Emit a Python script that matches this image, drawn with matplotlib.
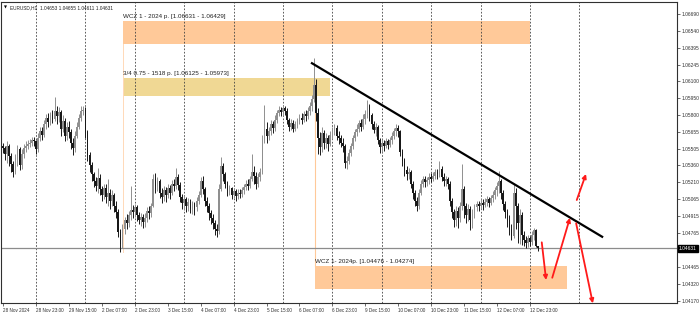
import matplotlib
matplotlib.use("Agg")
import matplotlib.pyplot as plt
import numpy as np

# EURUSD H1 bars, 28 Nov 2024 07:00 .. 13 Dec 2024 03:00 (open = previous close)
first_open = 1.0553
closes = [
    1.0551, 1.0546, 1.0553, 1.0544, 1.0537, 1.0530, 1.0542, 1.0550, 1.0536, 1.0546,
    1.0551, 1.0553, 1.0555, 1.0556, 1.0558, 1.0557, 1.0550, 1.0560, 1.0566, 1.0563,
    1.0572, 1.0578, 1.0574, 1.0580, 1.0577, 1.0584, 1.0579, 1.0583, 1.0568, 1.0575,
    1.0562, 1.0570, 1.0565, 1.0556, 1.0551, 1.0562, 1.0570, 1.0578, 1.0584, 1.0585,
    1.0565, 1.0545, 1.0536, 1.0528, 1.0522, 1.0518, 1.0525, 1.0515, 1.0510, 1.0516,
    1.0508, 1.0512, 1.0505, 1.0510, 1.0500, 1.0495, 1.0477, 1.0467, 1.0480, 1.0488,
    1.0485, 1.0492, 1.0497, 1.0495, 1.0499, 1.0492, 1.0488, 1.0491, 1.0486, 1.0490,
    1.0496, 1.0494, 1.0500, 1.0524, 1.0518, 1.0522, 1.0512, 1.0508, 1.0514, 1.0510,
    1.0516, 1.0512, 1.0520, 1.0518, 1.0526, 1.0519, 1.0508, 1.0503, 1.0506, 1.0500,
    1.0504, 1.0498, 1.0502, 1.0499, 1.0505, 1.0510, 1.0522, 1.0515, 1.0505, 1.0500,
    1.0494, 1.0490, 1.0485, 1.0480, 1.0478, 1.0515, 1.0535, 1.0528, 1.0520, 1.0514,
    1.0516, 1.0510, 1.0513, 1.0509, 1.0512, 1.0511, 1.0514, 1.0517, 1.0520, 1.0518,
    1.0524, 1.0530, 1.0527, 1.0520, 1.0526, 1.0530, 1.0558, 1.0568, 1.0562, 1.0566,
    1.0572, 1.0569, 1.0576, 1.0582, 1.0585, 1.0583, 1.0586, 1.0584, 1.0576, 1.0570,
    1.0573, 1.0568, 1.0572, 1.0575, 1.0578, 1.0576, 1.0581, 1.0579, 1.0584, 1.0588,
    1.0594, 1.0607, 1.0582, 1.0560, 1.0552, 1.0564, 1.0556, 1.0560, 1.0555, 1.0563,
    1.0567, 1.0569, 1.0562, 1.0560, 1.0556, 1.0553, 1.0538, 1.0540, 1.0547, 1.0553,
    1.0560, 1.0565, 1.0568, 1.0573, 1.0570, 1.0577, 1.0581, 1.0588, 1.0580, 1.0572,
    1.0567, 1.0570, 1.0558, 1.0552, 1.0556, 1.0553, 1.0557, 1.0554, 1.0558, 1.0562,
    1.0566, 1.0569, 1.0566, 1.0548, 1.0540, 1.0532, 1.0528, 1.0530, 1.0520, 1.0512,
    1.0505, 1.0500, 1.0512, 1.0520, 1.0524, 1.0521, 1.0523, 1.0526, 1.0524, 1.0527,
    1.0530, 1.0528, 1.0533, 1.0526, 1.0522, 1.0524, 1.0520, 1.0505, 1.0495, 1.0488,
    1.0496, 1.0490, 1.0500, 1.0515, 1.0500, 1.0492, 1.0498, 1.0488, 1.0494, 1.0499,
    1.0502, 1.0500, 1.0503, 1.0501, 1.0504, 1.0506, 1.0503, 1.0507, 1.0510, 1.0514,
    1.0518, 1.0522, 1.0512, 1.0502, 1.0495, 1.0488, 1.0480, 1.0474, 1.0512, 1.0500,
    1.0485, 1.0492, 1.0475, 1.0470, 1.0468, 1.0472, 1.0469, 1.0475, 1.0479, 1.04653,
    1.04631,
]
highs = [
    1.0556, 1.0553, 1.0557, 1.0555, 1.0547, 1.0540, 1.0546, 1.0554, 1.0552, 1.0550,
    1.0555, 1.0557, 1.0558, 1.0559, 1.0561, 1.0561, 1.0558, 1.0564, 1.0570, 1.0570,
    1.0576, 1.0581, 1.0582, 1.0583, 1.0585, 1.0596, 1.0588, 1.0587, 1.0585, 1.0580,
    1.0578, 1.0574, 1.0575, 1.0568, 1.0560, 1.0566, 1.0574, 1.0581, 1.0588, 1.0588,
    1.0587, 1.0567, 1.0548, 1.0539, 1.0530, 1.0526, 1.0534, 1.0528, 1.0518, 1.0520,
    1.0520, 1.0524, 1.0515, 1.0514, 1.0512, 1.0505, 1.0498, 1.0480, 1.0484, 1.0491,
    1.0493, 1.0496, 1.0518, 1.0501, 1.0502, 1.0501, 1.0495, 1.0494, 1.0493, 1.0494,
    1.0499, 1.0500, 1.0503, 1.0528, 1.0529, 1.0526, 1.0524, 1.0516, 1.0518, 1.0517,
    1.0520, 1.0519, 1.0523, 1.0524, 1.0534, 1.0528, 1.0521, 1.0511, 1.0509, 1.0508,
    1.0507, 1.0506, 1.0505, 1.0504, 1.0508, 1.0513, 1.0526, 1.0527, 1.0517, 1.0508,
    1.0503, 1.0497, 1.0493, 1.0488, 1.0484, 1.0520, 1.0543, 1.0538, 1.0530, 1.0522,
    1.0519, 1.0517, 1.0516, 1.0515, 1.0515, 1.0515, 1.0517, 1.0520, 1.0523, 1.0524,
    1.0527, 1.0546, 1.0535, 1.0530, 1.0529, 1.0534, 1.0563, 1.0589, 1.0574, 1.0570,
    1.0576, 1.0575, 1.0580, 1.0585, 1.0588, 1.0587, 1.0589, 1.0588, 1.0586, 1.0578,
    1.0577, 1.0576, 1.0575, 1.0578, 1.0581, 1.0582, 1.0584, 1.0585, 1.0587, 1.0592,
    1.0598, 1.0630, 1.0612, 1.0586, 1.0565, 1.0570, 1.0567, 1.0564, 1.0563, 1.0566,
    1.0570, 1.0572, 1.0571, 1.0566, 1.0563, 1.0560, 1.0555, 1.0544, 1.0550, 1.0556,
    1.0563, 1.0568, 1.0572, 1.0576, 1.0577, 1.0581, 1.0585, 1.0593, 1.0590, 1.0582,
    1.0575, 1.0573, 1.0571, 1.0560, 1.0559, 1.0558, 1.0560, 1.0559, 1.0561, 1.0565,
    1.0569, 1.0572, 1.0571, 1.0567, 1.0550, 1.0542, 1.0535, 1.0534, 1.0532, 1.0522,
    1.0514, 1.0508, 1.0515, 1.0523, 1.0527, 1.0527, 1.0526, 1.0529, 1.0529, 1.0530,
    1.0533, 1.0533, 1.0540, 1.0535, 1.0529, 1.0527, 1.0526, 1.0522, 1.0507, 1.0498,
    1.0500, 1.0499, 1.0504, 1.0537, 1.0518, 1.0503, 1.0502, 1.0500, 1.0498, 1.0502,
    1.0505, 1.0505, 1.0506, 1.0506, 1.0507, 1.0509, 1.0508, 1.0510, 1.0513, 1.0517,
    1.0521, 1.0531, 1.0524, 1.0514, 1.0505, 1.0498, 1.0492, 1.0484, 1.0520, 1.0516,
    1.0503, 1.0498, 1.0495, 1.0478, 1.0474, 1.0475, 1.0474, 1.0478, 1.0481, 1.0480,
    1.04655,
]
lows = [
    1.0547, 1.0541, 1.0538, 1.0535, 1.0530, 1.0526, 1.0528, 1.0535, 1.0532, 1.0533,
    1.0542, 1.0548, 1.0550, 1.0552, 1.0553, 1.0553, 1.0546, 1.0548, 1.0557, 1.0558,
    1.0561, 1.0568, 1.0570, 1.0571, 1.0573, 1.0575, 1.0572, 1.0574, 1.0562, 1.0565,
    1.0557, 1.0558, 1.0560, 1.0550, 1.0545, 1.0548, 1.0560, 1.0568, 1.0575, 1.0580,
    1.0560, 1.0540, 1.0530, 1.0522, 1.0517, 1.0513, 1.0512, 1.0510, 1.0505, 1.0506,
    1.0503, 1.0500, 1.0498, 1.0500, 1.0495, 1.0490, 1.0473, 1.0460, 1.0463, 1.0476,
    1.0480, 1.0482, 1.0488, 1.0490, 1.0491, 1.0487, 1.0484, 1.0483, 1.0481, 1.0482,
    1.0486, 1.0489, 1.0491, 1.0499, 1.0512, 1.0513, 1.0507, 1.0503, 1.0505, 1.0504,
    1.0507, 1.0506, 1.0510, 1.0513, 1.0515, 1.0514, 1.0504, 1.0498, 1.0497, 1.0495,
    1.0496, 1.0494, 1.0493, 1.0492, 1.0496, 1.0502, 1.0508, 1.0511, 1.0500, 1.0495,
    1.0488, 1.0484, 1.0480, 1.0475, 1.0473, 1.0476, 1.0513, 1.0522, 1.0516, 1.0509,
    1.0510, 1.0506, 1.0507, 1.0505, 1.0506, 1.0507, 1.0508, 1.0511, 1.0514, 1.0514,
    1.0516, 1.0522, 1.0520, 1.0515, 1.0517, 1.0522, 1.0528, 1.0556, 1.0556, 1.0558,
    1.0563, 1.0564, 1.0566, 1.0573, 1.0579, 1.0579, 1.0580, 1.0580, 1.0572, 1.0566,
    1.0567, 1.0565, 1.0566, 1.0569, 1.0572, 1.0572, 1.0574, 1.0575, 1.0577, 1.0580,
    1.0584, 1.0592, 1.0575, 1.0546, 1.0545, 1.0548, 1.0550, 1.0551, 1.0549, 1.0553,
    1.0559, 1.0563, 1.0558, 1.0555, 1.0552, 1.0548, 1.0534, 1.0533, 1.0537, 1.0544,
    1.0550, 1.0557, 1.0562, 1.0565, 1.0566, 1.0568, 1.0572, 1.0578, 1.0575, 1.0568,
    1.0564, 1.0562, 1.0555, 1.0547, 1.0548, 1.0549, 1.0551, 1.0550, 1.0552, 1.0555,
    1.0559, 1.0562, 1.0561, 1.0544, 1.0535, 1.0527, 1.0523, 1.0524, 1.0516, 1.0506,
    1.0500, 1.0496, 1.0498, 1.0510, 1.0517, 1.0517, 1.0518, 1.0520, 1.0521, 1.0522,
    1.0524, 1.0524, 1.0526, 1.0522, 1.0518, 1.0518, 1.0515, 1.0500, 1.0490, 1.0482,
    1.0483, 1.0481, 1.0486, 1.0497, 1.0490, 1.0485, 1.0487, 1.0479, 1.0481, 1.0490,
    1.0496, 1.0496, 1.0498, 1.0497, 1.0499, 1.0500, 1.0499, 1.0501, 1.0504, 1.0506,
    1.0509, 1.0512, 1.0506, 1.0497, 1.0490, 1.0482, 1.0475, 1.0470, 1.0472, 1.0480,
    1.0468, 1.0467, 1.0466, 1.0465, 1.0463, 1.0464, 1.0465, 1.0466, 1.0470, 1.0464,
    1.04611,
]

x_labels = ["28 Nov 2024", "28 Nov 23:00", "29 Nov 15:00", "2 Dec 07:00", "2 Dec 23:00",
            "3 Dec 15:00", "4 Dec 07:00", "4 Dec 23:00", "5 Dec 15:00", "6 Dec 07:00",
            "6 Dec 23:00", "9 Dec 15:00", "10 Dec 07:00", "10 Dec 23:00", "11 Dec 15:00",
            "12 Dec 07:00", "12 Dec 23:00"]
x_label_bars = [0, 16, 32, 48, 64, 80, 96, 112, 128, 144, 160, 176, 192, 208, 224, 240, 256]
grid_bars = [16, 40, 64, 88, 112, 136, 160, 184, 208, 232, 256, 280]
price_ticks = [1.06690, 1.06540, 1.06395, 1.06245, 1.06100, 1.05950, 1.05800, 1.05655,
               1.05505, 1.05360, 1.05210, 1.05065, 1.04915, 1.04765, 1.04465, 1.04320, 1.04170]

# zones: bar from, bar to, price top, price bottom, label
zone_from = [58.3, 58.3, 151.5]
zone_to = [256.0, 158.8, 274.0]
zone_top = [1.06631, 1.06125, 1.04476]
zone_bottom = [1.06429, 1.05973, 1.04274]
zone_labels = ["WCZ 1 - 2024 p. [1.06631 - 1.06429]",
               "3/4 0.75 - 1518 p. [1.06125 - 1.05973]",
               "WCZ 1- 2024p. [1.04476 - 1.04274]"]
zone_colors = ["#FFC999", "#F0D894", "#FFC999"]

# trend line (bar, price)
trend_bars = [149.6, 291.5]
trend_prices = [1.06262, 1.04727]

# red scenario arrows: (bar start, price start, bar end, price end)
arrows = [
    (261.7, 1.04683, 263.8, 1.04352),
    (266.8, 1.04372, 275.4, 1.04899),
    (278.4, 1.04850, 286.5, 1.04147),
    (278.7, 1.05055, 283.2, 1.05284),
]

FONT = ["Liberation Sans", "DejaVu Sans"]
plt.rcParams["font.family"] = FONT

opens = [first_open] + closes[:-1]
o = np.array(opens)
c = np.array(closes)
h = np.array(highs)
l = np.array(lows)
idx = np.arange(len(c))
up = c >= o
col = np.where(up, "#8f8f8f", "#181818")

fig = plt.figure(figsize=(7.0, 3.14), dpi=100)
ax = fig.add_axes([1 / 700, 11 / 314, 676 / 700, 301 / 314])
ax.set_xlim(-1.0, 327.4)
ax.set_ylim(1.04150, 1.06795)

# grid separators
for g in grid_bars:
    ax.axvline(g, color="#404040", lw=0.6, ls=(0, (2, 2)), zorder=1)

# zones
for x0, x1, top, bot, lab, zc in zip(zone_from, zone_to, zone_top, zone_bottom, zone_labels, zone_colors):
    ax.fill_between([x0, x1], bot, top, color=zc, lw=0, zorder=0.5)
    ax.text(x0, top + 0.00018, lab, fontsize=4.5, color="#202020", ha="left", va="bottom", zorder=5)

# thin anchor lines of the zones
ax.plot([zone_from[0], zone_from[0]], [zone_bottom[0], min(lows)], color="#FFD9B8", lw=0.7, zorder=0.6)
ax.plot([zone_from[2], zone_from[2]], [zone_bottom[1], zone_top[2]], color="#FFC999", lw=0.8, zorder=0.6)

# current price line
last_price = closes[-1]
ax.axhline(last_price, color="#8c8c8c", lw=0.9, zorder=1.5)

# candles
ax.vlines(idx, l, h, colors=col, lw=0.7, zorder=3)
body = np.maximum(np.abs(c - o), 0.00002)
ax.bar(idx, body, bottom=np.minimum(o, c), width=0.85, color=col, lw=0, zorder=3)

# trend line
ax.plot(trend_bars, trend_prices, color="black", lw=1.6, solid_capstyle="butt", zorder=4)

# scenario arrows
for xs, ys, xe, ye in arrows:
    ax.annotate("", xy=(xe, ye), xytext=(xs, ys),
                arrowprops=dict(arrowstyle="-|>", color="#ff1a1a", lw=1.3,
                                mutation_scale=6, shrinkA=0, shrinkB=0),
                annotation_clip=False, zorder=6)

# header
hdr = "EURUSD,H1  %.5f %.5f %.5f %.5f" % (opens[-1], highs[-1], lows[-1], closes[-1])
ax.text(0.004, 0.988, "\u25bc", transform=ax.transAxes, fontsize=2.8, va="top", ha="left",
        family=["DejaVu Sans"])
ax.text(0.014, 0.99, hdr, transform=ax.transAxes, fontsize=3.4, va="top", ha="left", color="#202020")

# axes styling
for s in ax.spines.values():
    s.set_color("#303030")
    s.set_linewidth(0.8)
ax.yaxis.tick_right()
ax.set_yticks(price_ticks)
ax.set_yticklabels(["%.5f" % p for p in price_ticks])
ax.tick_params(axis="y", labelsize=3.5, length=2, width=0.5, pad=1.5, colors="#303030")
ax.set_xticks(x_label_bars)
ax.set_xticklabels(x_labels)
for t in ax.get_xticklabels():
    t.set_horizontalalignment("left")
ax.tick_params(axis="x", labelsize=3.3, length=2, width=0.5, pad=1.5, colors="#303030")

# price tag
ax.text(1.003, last_price, "%.5f" % last_price, transform=ax.get_yaxis_transform(),
        fontsize=3.5, color="white", va="center", ha="left",
        bbox=dict(boxstyle="square,pad=0.25", fc="black", ec="black"), zorder=10, clip_on=False)

fig.savefig("out.png", dpi=100)
